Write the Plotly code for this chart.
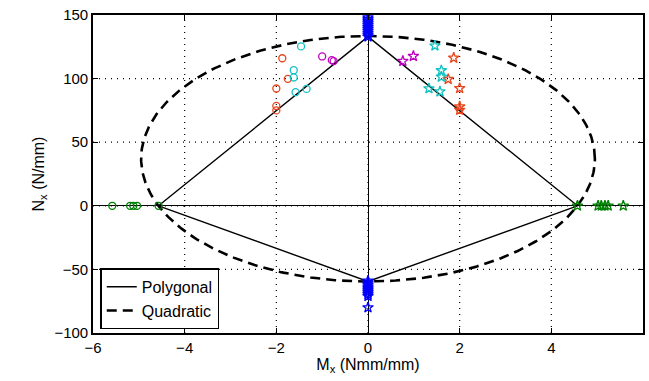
import numpy as np
import plotly.graph_objects as go

# Polygonal envelope vertices
poly_x = [0, 4.57, 0, -4.57, 0]
poly_y = [133, 0, -59.5, 0, 133]

# Quadratic envelope parameters (ellipse)
ell_cx, ell_cy, ell_a, ell_b = 0.0, 37.0, 4.95, 96.5

# Circles (negative moment side)
red_c_x = [-1.87, -1.75, -2.0, -2.0, -2.0]
red_c_y = [116, 99.8, 92.2, 78.5, 75]
cyan_c_x = [-1.46, -1.62, -1.62, -1.58, -1.34]
cyan_c_y = [125.3, 106.6, 100.9, 89.3, 91.9]
mag_c_x = [-1.0, -0.79, -0.75]
mag_c_y = [117.4, 114.5, 113.7]
green_c_x = [-5.58, -5.19, -5.12, -5.04, -4.57]
green_c_y = [0, 0, 0, 0, 0]

# Stars (positive moment side)
red_s_x = [1.87, 1.75, 2.0, 2.0, 2.0]
red_s_y = [116.3, 99.5, 92.4, 78, 75.3]
cyan_s_x = [1.46, 1.60, 1.60, 1.33, 1.57]
cyan_s_y = [125.8, 106.4, 101.4, 92.2, 89.8]
mag_s_x = [0.76, 0.99]
mag_s_y = [113.7, 117.7]
green_s_x = [4.57, 5.02, 5.09, 5.17, 5.24, 5.57]
green_s_y = [0, 0, 0, 0, 0, 0]
blue_s_y = [133, 134.5, 136, 137.5, 139, 140.5, 142, 143.5, 145, 146.5, 148,
            -59, -60.5, -62, -63.5, -65, -66.5, -68, -69.5, -71, -80]
blue_s_x = [0] * len(blue_s_y)

x_ticks = [-6, -4, -2, 0, 2, 4, 6]
x_ticktext = ['−6', '−4', '−2', '0', '2', '4', '6']
y_ticks = [-100, -50, 0, 50, 100, 150]
y_ticktext = ['−100', '−50', '0', '50', '100', '150']

RED = '#e8461e'
CYAN = '#12c0c0'
MAG = '#c000c0'
GREEN = '#008000'
BLUE = '#0000ff'
FONT = 'Liberation Sans, Arial'

fig = go.Figure()

# dotted grid (MATLAB style) at interior ticks
for xv in x_ticks[1:-1]:
    fig.add_shape(type='line', xref='x', yref='paper', x0=xv, x1=xv, y0=0, y1=1,
                  line=dict(color='black', width=1.2, dash='1px,5px'), layer='below')
for yv in y_ticks[1:-1]:
    fig.add_shape(type='line', xref='paper', yref='y', x0=0, x1=1, y0=yv, y1=yv,
                  line=dict(color='black', width=1.2, dash='1px,5px'), layer='below')

t = np.linspace(0, 2 * np.pi, 400)
fig.add_trace(go.Scatter(x=poly_x, y=poly_y, mode='lines', name='Polygonal',
                         line=dict(color='black', width=1.4)))
fig.add_trace(go.Scatter(x=ell_cx + ell_a * np.cos(t), y=ell_cy + ell_b * np.sin(t),
                         mode='lines', name='Quadratic',
                         line=dict(color='black', width=2.6, dash='10px,6px')))

def pts(x, y, color, sym, size):
    fig.add_trace(go.Scatter(x=x, y=y, mode='markers', showlegend=False,
                             marker=dict(symbol=sym, size=size, color=color,
                                         line=dict(color=color, width=1.3))))

pts(red_c_x, red_c_y, RED, 'circle-open', 7)
pts(cyan_c_x, cyan_c_y, CYAN, 'circle-open', 7)
pts(mag_c_x, mag_c_y, MAG, 'circle-open', 7)
pts(green_c_x, green_c_y, GREEN, 'circle-open', 7)
pts(red_s_x, red_s_y, RED, 'star-open', 8)
pts(cyan_s_x, cyan_s_y, CYAN, 'star-open', 8)
pts(mag_s_x, mag_s_y, MAG, 'star-open', 8)
pts(green_s_x, green_s_y, GREEN, 'star-open', 8)
pts(blue_s_x, blue_s_y, BLUE, 'star-open', 8)

# Rightmost x tick label ("6") sits on the page edge; draw it as unclipped text,
# nudged below the axis line to align with the other tick labels
label_offset = 9
fig.add_trace(go.Scatter(x=[x_ticks[-1]], y=[y_ticks[0] - label_offset], mode='text',
                         text=[x_ticktext[-1]], textposition='bottom center',
                         textfont=dict(family=FONT, size=15, color='black'),
                         cliponaxis=False, showlegend=False, hoverinfo='skip'))

axis_common = dict(showline=True, linecolor='black', linewidth=1.6, mirror='ticks',
                   ticks='inside', ticklen=5, tickcolor='black', tickwidth=1,
                   showgrid=False,
                   zeroline=True, zerolinecolor='black', zerolinewidth=1.2,
                   tickfont=dict(family=FONT, size=15, color='black'))

fig.update_xaxes(range=[-6, 6], tickvals=x_ticks, ticktext=x_ticktext[:-1] + [''],
                 title=dict(text='M<sub>x</sub> (Nmm/mm)', standoff=2,
                            font=dict(family=FONT, size=16, color='black')),
                 **axis_common)
fig.update_yaxes(range=[-100, 150], tickvals=y_ticks, ticktext=y_ticktext,
                 title=dict(text='N<sub>x</sub> (N/mm)', standoff=6,
                            font=dict(family=FONT, size=16, color='black')),
                 **axis_common)

fig.update_layout(
    width=649, height=381,
    margin=dict(l=93, r=4, t=15, b=48),
    plot_bgcolor='white', paper_bgcolor='white',
    legend=dict(x=0.013, y=0.012, xanchor='left', yanchor='bottom',
                bgcolor='white', bordercolor='black', borderwidth=1.6,
                font=dict(family=FONT, size=16, color='black'),
                tracegroupgap=0, itemwidth=30),
)

fig.write_html('out.html')
